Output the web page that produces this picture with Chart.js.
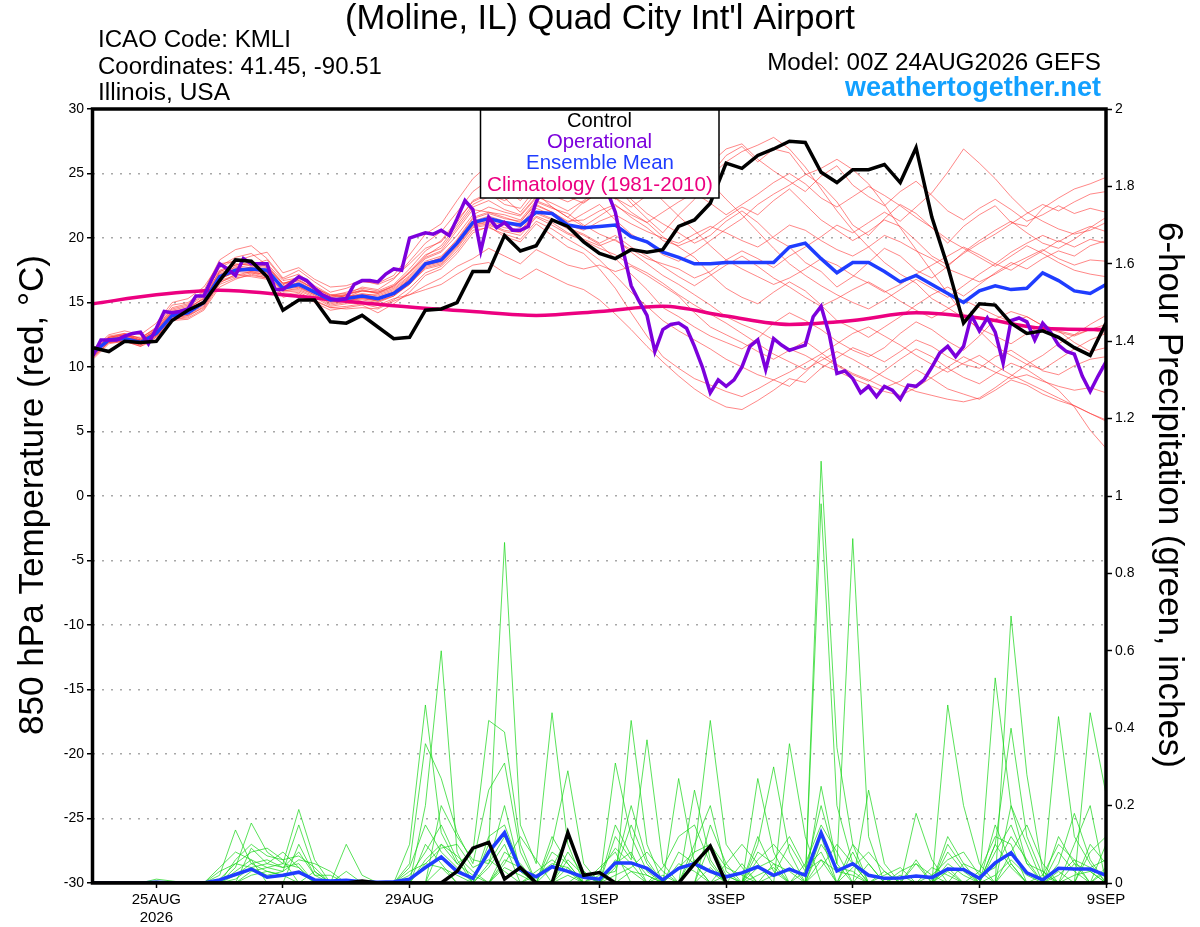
<!DOCTYPE html>
<html>
<head>
<meta charset="utf-8">
<title>KMLI GEFS 850 hPa temperature and precipitation</title>
<script src="https://cdn.jsdelivr.net/npm/chart.js@4.4.1/dist/chart.umd.min.js"></script>
<style>
  html, body { margin: 0; padding: 0; background: #ffffff; }
  #plume { display: block; }
</style>
</head>
<body>
<canvas id="plume" width="1200" height="927"></canvas>
<script>
// 00Z 24AUG2026 GEFS plume for KMLI
// members / control / mean are 6-hourly (0..384 h), operational is 3-hourly, climatology daily

const tickHours = [24, 72, 120, 192, 240, 288, 336, 384];
const tickLabels = [['25AUG', '2026'], '27AUG', '29AUG', '1SEP', '3SEP', '5SEP', '7SEP', '9SEP'];

// --- 850 hPa temperature (deg C) ---

const controlTemp = [
  11.5, 11.2, 12.0, 11.9, 12.0, 13.6, 14.4, 15.0, 16.7, 18.3,
  18.2, 17.0, 14.4, 15.2, 15.2, 13.5, 13.4, 14.0, 13.1, 12.2,
  12.3, 14.4, 14.5, 15.0, 17.4, 17.4, 20.2, 19.0, 19.4, 21.4,
  20.9, 19.7, 18.8, 18.4, 19.1, 18.9, 19.1, 20.9, 21.4, 22.7,
  25.8, 25.4, 26.4, 26.9, 27.5, 27.4, 25.1, 24.3, 25.3, 25.3,
  25.7, 24.3, 27.0, 21.6, 17.8, 13.4, 14.9, 14.8, 13.4, 12.6,
  12.8, 12.3, 11.5, 10.9, 13.4
];

const meanTemp = [
  11.1, 12.1, 12.2, 11.9, 12.6, 14.0, 14.2, 15.0, 17.0, 17.5,
  17.6, 17.5, 16.1, 16.4, 15.8, 15.2, 15.3, 15.5, 15.3, 15.7,
  16.6, 18.0, 18.3, 19.6, 21.2, 21.5, 21.2, 21.0, 22.0, 21.9,
  21.0, 20.8, 20.9, 21.0, 20.1, 19.7, 18.9, 18.5, 18.0, 18.0,
  18.1, 18.1, 18.1, 18.1, 19.3, 19.6, 18.4, 17.3, 18.1, 18.1,
  17.4, 16.6, 17.1, 16.4, 15.7, 15.0, 15.9, 16.3, 16.0, 16.1,
  17.3, 16.7, 15.9, 15.7, 16.4
];

const operationalTemp = [
  10.9, 12.1, 12.1, 12.1, 12.4, 12.6, 12.7, 11.8,
  13.0, 14.3, 14.2, 14.3, 14.5, 15.5, 15.5, 16.8,
  18.0, 17.6, 17.1, 18.4, 18.0, 18.0, 18.0, 16.0,
  16.0, 16.5, 17.0, 16.7, 16.1, 15.6, 15.3, 15.2,
  15.3, 16.4, 16.7, 16.7, 16.6, 17.2, 17.6, 17.5,
  20.0, 20.2, 20.4, 20.3, 20.6, 20.2, 21.5, 22.9,
  22.2, 19.0, 21.6, 20.8, 21.2, 20.6, 20.6, 20.9,
  22.8, 24.0, 24.5, 25.0, 25.5, 25.8, 25.5, 25.0,
  24.5, 23.6, 22.0, 19.0, 16.3, 15.1, 14.0, 11.2,
  12.9, 13.3, 13.4, 13.0, 11.6, 10.0, 8.0, 9.0,
  8.5, 9.0, 10.0, 11.6, 12.1, 9.8, 12.2, 11.7,
  11.3, 11.5, 11.7, 13.9, 14.7, 12.6, 9.5, 9.7,
  9.1, 8.0, 8.5, 7.7, 8.5, 8.2, 7.5, 8.6,
  8.5, 9.0, 10.0, 11.1, 11.6, 10.8, 11.6, 14.0,
  12.8, 13.8, 12.7, 10.3, 13.6, 13.8, 13.5, 12.1,
  13.4, 12.7, 11.7, 11.2, 11.0, 9.3, 8.1, 9.3,
  10.4
];

const climoTemp = [14.9, 15.6, 15.95, 15.6, 15.1, 14.65, 14.3, 14.0, 14.3, 14.7, 13.95, 13.3, 13.6, 14.2, 13.8, 13.0, 12.9];

const memberTemps = [
  [11.0,12.3,12.5,12.0,12.8,14.3,14.5,15.4,17.8,18.5, 18.8,17.9,16.5,16.8,16.0,15.1,15.6,16.2,16.0,16.8,
   18.2,19.6,20.5,22.0,23.6,24.5,23.1,22.0,23.5,22.4, 21.6,22.8,23.5,24.1,22.7,21.5,20.4,21.8,23.0,24.9,
   26.4,27.1,25.9,26.9,26.6,25.0,24.1,22.8,21.0,20.2, 21.5,22.6,21.9,20.8,19.6,20.9,21.8,22.5,21.2,20.9,
   22.3,23.1,23.8,24.2,24.7],
  [10.6,11.8,12.0,11.6,12.1,13.6,13.7,14.4,16.2,16.8, 17.2,16.9,15.4,15.7,15.0,14.4,14.6,14.8,14.2,14.9,
   15.8,17.1,17.6,18.8,20.4,20.9,20.1,19.7,21.1,20.2, 19.3,18.8,17.6,16.1,14.2,12.4,10.8,9.9,9.1,8.6,
   8.1,7.7,8.3,9.0,8.5,9.6,10.8,10.1,9.4,8.9, 9.7,10.6,11.4,10.8,9.9,9.2,8.7,9.5,10.3,9.8,
   9.0,8.2,6.9,5.1,3.7],
  [11.3,12.0,12.4,12.3,13.0,14.6,14.9,15.8,17.5,18.0, 17.9,18.3,16.8,17.2,16.3,15.6,15.4,15.9,15.8,16.2,
   17.3,18.5,19.0,20.6,22.2,22.0,21.6,21.2,22.8,22.3, 21.9,21.0,20.3,19.8,19.1,18.4,18.0,17.6,16.9,17.4,
   18.3,19.0,18.4,17.7,18.6,19.3,20.1,21.0,20.4,21.2, 22.0,21.3,22.4,23.5,25.1,26.9,25.8,24.6,23.2,22.0,
   21.3,20.7,20.3,20.6,21.2],
  [10.9,12.0,12.1,11.7,12.4,13.8,14.0,14.6,16.6,17.0, 17.3,17.0,15.8,15.9,15.4,14.7,14.9,15.0,14.8,15.3,
   15.6,16.0,16.4,17.2,17.9,18.1,17.3,16.8,17.6,17.0, 16.4,16.0,15.2,14.1,12.9,11.6,10.4,9.3,8.3,7.5,
   6.9,6.7,7.4,8.2,9.1,8.8,9.9,10.7,11.5,11.0, 10.4,11.2,12.1,11.6,10.8,10.2,9.9,10.8,11.3,10.5,
   9.7,9.4,10.1,10.6,10.8],
  [11.2,12.4,12.6,12.2,13.1,14.8,15.0,15.9,18.3,19.1, 19.4,18.4,16.9,17.5,16.6,15.8,16.1,16.6,16.5,17.1,
   18.7,20.3,21.1,22.9,24.6,25.7,26.0,24.8,25.3,24.1, 23.2,22.7,23.6,24.4,23.0,21.9,21.1,20.4,19.6,20.2,
   21.3,22.1,21.2,20.0,19.3,18.1,17.4,16.2,17.0,18.1, 19.2,18.6,17.5,16.9,17.8,18.9,19.8,20.6,21.3,20.4,
   19.6,19.2,19.9,20.8,21.6],
  [11.0,12.1,12.3,11.8,12.5,13.9,14.1,14.9,16.9,17.3, 17.8,17.6,16.0,16.2,15.6,14.9,15.1,15.4,15.1,15.6,
   16.4,17.8,18.1,19.4,21.0,21.3,21.0,20.5,21.9,21.4, 20.7,20.2,19.5,18.4,17.2,16.0,14.6,13.9,13.1,12.4,
   11.9,11.4,12.2,13.4,14.2,13.6,12.9,12.0,11.3,10.8, 11.5,12.6,13.5,12.9,12.0,11.3,12.4,13.7,14.3,13.9,
   13.2,12.7,12.4,12.9,13.3],
  [11.1,12.2,12.4,12.0,12.7,14.1,14.4,15.1,17.1,17.8, 17.5,17.3,16.3,16.5,15.9,15.4,15.5,15.6,15.6,16.0,
   17.0,18.2,18.6,19.8,21.5,21.9,21.5,21.3,22.6,22.0, 21.3,21.4,22.1,22.6,21.6,20.8,19.8,19.4,19.9,20.7,
   21.6,22.4,21.8,22.9,23.8,22.6,21.4,20.6,19.8,20.5, 21.4,20.9,19.8,18.6,17.9,18.8,19.6,20.3,21.1,21.9,
   22.6,22.1,22.8,23.4,23.6],
  [11.4,12.5,12.8,12.5,13.4,15.0,15.3,16.2,18.0,18.2, 18.6,18.9,17.3,17.7,16.8,16.2,16.3,16.7,16.4,16.9,
   18.0,19.2,19.7,21.2,22.9,23.5,22.6,22.3,23.9,23.3, 22.8,23.4,24.0,23.1,22.4,23.3,24.6,25.1,24.0,24.8,
   25.9,26.7,27.2,27.8,26.9,25.5,23.8,22.1,20.6,19.3, 18.1,17.2,16.5,15.3,14.6,13.8,13.0,12.4,11.8,12.6,
   13.3,12.8,11.9,11.2,11.5],
  [10.7,11.9,12.0,11.7,12.3,13.7,13.9,14.7,16.5,17.2, 17.0,16.8,15.6,15.5,15.1,14.6,14.5,14.6,14.5,15.1,
   15.6,16.3,16.9,17.8,18.4,19.2,18.6,18.0,19.1,18.5, 17.9,17.6,17.9,17.4,17.8,17.1,16.3,15.5,14.2,13.1,
   12.5,11.9,11.2,10.6,11.3,12.0,11.1,10.2,9.5,9.0, 8.4,8.9,9.8,9.1,8.3,7.9,7.5,8.2,9.0,8.6,
   7.9,7.4,7.0,6.4,5.9],
  [11.2,12.3,12.5,12.1,12.9,14.4,14.7,15.5,17.4,17.9, 18.1,18.0,16.7,16.9,16.2,15.5,15.8,16.1,15.9,16.4,
   17.6,19.0,19.8,21.4,22.8,23.4,22.9,23.6,24.8,25.6, 26.2,25.4,24.3,23.1,22.0,21.2,20.1,19.3,18.5,17.2,
   16.1,15.4,14.9,15.8,16.6,15.9,14.8,13.6,13.0,12.3, 13.1,13.9,14.8,15.6,16.2,15.5,16.4,17.3,18.1,17.6,
   18.4,19.0,18.6,19.4,19.8],
  [11.0,12.1,12.2,11.9,12.6,14.0,14.2,15.0,16.8,17.4, 17.6,17.4,16.2,16.2,15.7,15.2,15.3,15.4,15.3,15.8,
   16.8,17.9,18.2,19.5,21.1,21.4,21.2,20.8,22.3,21.8, 21.0,20.6,21.3,21.8,21.1,20.5,20.0,19.6,20.3,20.9,
   20.4,19.8,19.3,20.1,21.0,20.6,19.8,19.1,18.6,19.3, 20.2,19.7,19.0,18.4,17.6,17.1,16.6,17.2,17.9,18.5,
   19.1,18.4,17.9,18.3,18.2],
  [11.1,12.2,12.3,12.0,12.7,14.2,14.3,15.2,17.2,17.6, 17.7,17.5,16.1,16.6,15.9,15.3,15.4,15.7,15.5,15.9,
   16.9,18.1,18.4,19.7,21.3,21.7,21.3,21.0,22.5,22.0, 21.2,21.9,22.6,21.4,20.3,19.6,18.7,18.2,18.9,19.8,
   20.7,21.5,22.6,23.4,24.1,24.9,25.4,26.1,25.3,24.2, 22.6,20.8,19.1,17.4,15.7,14.1,12.8,11.6,10.9,10.2,
   9.8,10.6,11.4,12.1,12.6],
  [10.8,11.9,12.1,11.8,12.4,13.8,14.0,14.8,16.7,17.1, 17.4,17.1,15.9,16.0,15.5,14.8,15.0,15.2,15.0,15.5,
   16.5,17.6,17.9,19.2,20.8,21.0,20.5,20.2,21.6,21.0, 20.3,19.8,19.2,18.7,17.9,17.3,16.5,15.6,14.8,14.1,
   13.4,12.6,11.8,11.0,10.4,9.8,10.5,11.2,10.6,9.9, 9.2,8.6,8.1,7.8,7.5,7.3,7.6,8.4,9.3,10.2,
   10.9,11.8,12.5,13.3,14.0],
  [11.3,12.3,12.6,12.2,13.0,14.5,14.8,15.6,17.7,18.3, 18.2,17.8,16.4,17.0,16.1,15.5,15.6,16.0,15.7,16.3,
   17.4,18.7,19.2,20.8,22.4,22.9,22.2,21.8,23.2,22.7, 22.1,22.9,23.8,24.6,25.3,24.1,22.9,21.7,20.6,19.4,
   18.3,17.6,17.0,16.4,16.9,17.6,18.4,17.9,17.1,16.5, 15.8,16.4,17.2,17.9,18.6,19.3,18.7,18.0,18.9,19.6,
   20.2,19.7,20.4,20.9,20.5],
  [11.0,12.0,12.2,11.9,12.5,13.9,14.2,14.9,16.9,17.5, 17.4,17.3,16.1,16.3,15.8,15.1,15.2,15.3,15.2,15.7,
   16.6,17.9,18.2,19.5,21.0,21.2,20.8,20.6,22.0,21.5, 20.8,20.3,19.6,20.2,19.3,18.6,17.8,17.0,16.3,17.1,
   17.9,18.6,17.8,16.9,16.2,15.4,14.7,15.3,16.0,16.6, 15.9,15.1,14.4,13.8,14.5,15.2,14.6,14.0,13.5,13.9,
   13.2,12.8,12.5,12.9,12.6],
  [10.9,12.1,12.2,11.8,12.6,14.0,14.2,14.9,16.8,17.4, 17.3,17.2,15.9,16.1,15.6,15.0,15.1,15.3,15.1,15.5,
   16.4,17.7,18.0,19.3,20.9,21.1,20.6,20.4,21.7,21.2, 20.4,19.9,19.4,19.9,18.9,18.0,17.1,16.4,15.6,14.8,
   13.9,13.3,12.8,12.1,11.4,10.9,10.2,9.7,9.1,8.6, 8.1,7.8,8.4,9.2,10.0,10.8,10.2,9.6,9.1,9.4,
   8.9,8.5,8.2,8.4,8.0],
  [11.2,12.2,12.5,12.1,12.9,14.3,14.6,15.3,17.4,17.9, 18.0,17.8,16.5,16.7,16.1,15.6,15.7,15.9,15.8,16.3,
   17.3,18.6,19.4,21.0,22.6,23.2,23.8,22.9,24.3,25.1, 24.2,23.5,24.6,25.4,24.8,25.9,26.8,25.7,24.6,25.8,
   26.9,27.3,26.1,25.2,24.4,23.6,24.8,25.6,24.1,23.2, 22.5,23.6,24.4,23.3,22.1,21.4,22.3,23.0,22.2,21.3,
   21.8,22.5,21.9,22.3,22.0],
  [11.0,12.2,12.3,12.1,12.8,14.2,14.5,15.3,17.3,17.7, 17.9,17.7,16.4,16.7,16.0,15.4,15.6,15.9,15.7,16.1,
   17.1,18.4,18.9,20.2,21.8,22.4,22.0,21.7,23.1,23.6, 24.4,25.2,24.1,23.0,24.2,25.0,26.1,26.6,25.5,24.3,
   23.0,21.8,20.5,19.2,18.0,17.1,16.3,15.6,15.0,14.5, 15.2,16.0,16.8,16.1,15.4,16.3,17.2,18.0,17.5,18.3,
   19.0,19.8,19.3,19.9,19.6],
  [11.1,12.1,12.3,11.9,12.7,14.1,14.3,15.1,17.0,17.6, 17.7,17.4,16.0,16.4,15.8,15.2,15.4,15.6,15.4,15.8,
   16.8,18.0,18.5,19.9,21.6,22.0,21.8,21.4,22.9,22.4, 21.6,20.9,21.7,22.5,21.8,21.2,22.0,22.8,23.5,22.7,
   21.8,22.6,23.4,24.3,25.0,24.2,23.1,22.4,23.2,24.0, 23.3,22.5,21.6,20.8,19.9,19.2,18.5,17.8,18.6,19.4,
   18.8,18.1,17.5,17.2,17.0],
  [10.8,11.9,12.0,11.6,12.3,13.7,13.8,14.5,16.4,16.9, 17.1,16.9,15.6,15.8,15.2,14.6,14.7,14.9,14.6,15.2,
   16.1,17.3,17.8,19.0,20.6,20.8,20.3,19.9,21.3,20.7, 19.9,19.2,18.3,17.1,15.8,14.7,13.6,12.8,12.1,11.4,
   10.6,10.0,9.4,9.0,9.6,10.3,11.0,11.8,12.6,13.1, 12.4,11.7,10.9,10.2,9.6,10.3,10.9,10.1,9.4,8.8,
   8.2,7.6,7.0,6.4,5.8]
];

// --- 6-hour precipitation (inches) ---

const controlPrecip = [
  0, 0, 0, 0, 0, 0, 0, 0, 0, 0,
  0, 0, 0, 0, 0, 0, 0, 0.005, 0, 0,
  0, 0, 0, 0.03, 0.09, 0.105, 0.01, 0.04, 0, 0,
  0.13, 0.02, 0.027, 0, 0, 0, 0, 0, 0.05, 0.095,
  0, 0, 0, 0, 0, 0, 0, 0, 0, 0,
  0, 0, 0, 0, 0, 0, 0, 0, 0, 0,
  0, 0, 0, 0, 0
];

const meanPrecip = [
  0, 0, 0, 0, 0.002, 0, 0, 0, 0.008, 0.022,
  0.036, 0.015, 0.02, 0.028, 0.008, 0.005, 0.007, 0.003, 0.002, 0.003,
  0.01, 0.04, 0.067, 0.03, 0.012, 0.08, 0.13, 0.034, 0.016, 0.042,
  0.03, 0.015, 0.01, 0.052, 0.052, 0.038, 0.008, 0.038, 0.05, 0.03,
  0.016, 0.026, 0.042, 0.02, 0.036, 0.02, 0.13, 0.031, 0.05, 0.02,
  0.012, 0.013, 0.018, 0.014, 0.036, 0.035, 0.012, 0.052, 0.078, 0.026,
  0.008, 0.038, 0.036, 0.036, 0.02
];

const memberPrecips = [
  [0,0,0,0,0,0,0,0, .02,.137,.05,.03,.02,0,0,0, 0,0,0,0,.10,.46,.13,.05, .02,0,.08,.05,0,0,.04,0,
   0,.31,.12,.03,0,0,.08,.42, .1,.04,0,0,0,0,.98,.2, .05,0,0,0,0,0,.1,.04, 0,.53,.2,.05,0,.12,.05,.03, 0],
  [0,0,0,0,0,0,0,0, 0,.04,.155,.08,.05,.19,.06,0, 0,0,0,0,0,.20,.60,.08, 0,.05,.12,.03,0,.10,.29,.05,
   0,0,.42,.1,0,.27,.05,0, 0,0,.1,.30,.08,0,1.09,.35, .1,0,0,0,.05,.02,0,0, 0,0,.69,.28,.03,0,0,.44, .23],
  [0,0,0,0,0,0,0,0, .04,.08,.06,0,0,.1,.02,0, 0,0,0,0,.05,.36,.27,.13, .05,.24,.31,.08,0,0,0,.03,
   0,.12,.06,.37,.05,0,0,.15, .05,0,.27,.08,0,.03,.2,.05, .89,.12,0,0,0,0,.46,.2, .05,0,.05,0,0,.43,.12,.05, 0],
  [0,0,0,0,0,0,0,0, 0,0,.09,.05,.04,.05,0,0, .10,.02,0,0,0,.05,.04,0, 0,.1,.88,.15,.05,.44,.1,0,
   .04,.08,0,0,.02,0,.24,.06, 0,.05,0,0,.36,.12,0,0, 0,.24,.05,0,.18,.06,0,0, 0,.1,.4,.12,.02,0,.1,.2, 0],
  [0,0,0,0,0,0,0,0, 0,.06,.1,.07,.06,.07,.04,0, 0,0,0,0,0,0,.1,.05, .08,.42,.39,.1,0,0,.06,.02,
   0,.05,.08,0,0,.08,.05,0, .02,0,.06,.1,.05,0,.12,0, .08,0,.03,0,0,0,.05,.02, 0,.15,.05,0,0,.05,.18,.06, 0],
  [0,0,0,0,.01,.005,0,0, 0,.03,.06,.04,.03,.15,.03,0, 0,0,0,0,0,.1,.05,0, 0,.12,.15,.04,0,.12,.05,0,
   .02,.03,.15,.05,0,0,0,.1, .02,0,.12,.03,0,0,.25,.05, 0,.05,0,.02,0,0,.08,.03, 0,0,.2,.1,0,.03,0,.1, .05],
  [0,0,0,0,0,0,0,0, .01,.05,.08,.09,.06,0,.03,0, .03,0,0,0,.04,.15,.08,.04, 0,0,.05,.12,.06,0,.08,.02,
   0,.06,.03,0,.04,.12,.15,.05, 0,0,.08,.05,0,0,.1,.04, .03,0,0,0,.06,0,.12,.05, 0,.08,.15,.05,.03,0,.05,0, .03],
  [0,0,0,0,0,0,0,0, 0,0,.03,.04,.05,.04,0,0, 0,0,0,0,0,0,.2,.12, .06,.05,.2,.03,0,.04,.12,.03,
   0,.15,.07,.02,0,0,.1,.2, .03,0,0,.02,.1,.03,.06,0, .1,.05,0,0,0,.04,.02,0, .03,.12,.1,0,0,.08,.03,0, .1],
  [0,0,0,0,0,0,0,0, 0,.02,.05,.06,.04,.08,.02,.02, 0,0,0,0,.02,.08,.15,.06, 0,.04,.1,0,.03,.06,.03,0,
   0,.04,.2,.06,0,.05,.03,0, .05,.1,.05,0,0,.05,.15,.08, 0,0,.02,.04,0,0,0,.05, .03,0,.08,.15,.05,0,0,.08, .12],
  [0,0,0,0,.005,0,0,0, 0,0,.02,.03,.02,.03,0,0, 0,0,0,0,0,0,.04,.02, 0,0,.04,.02,0,0,.02,0,
   0,0,.03,.02,0,0,0,.04, 0,0,.02,.04,0,0,.06,.03, .02,0,0,0,0,0,.03,0, 0,.02,.06,.02,0,0,.02,.03, 0],
  [0,0,0,0,0,0,0,0, .03,.05,.04,.05,.08,.04,0,0, 0,0,0,0,0,.06,.1,.07, .03,0,.06,.04,0,.08,.05,0,
   0,.02,.04,.08,.03,0,.06,.03, 0,0,.04,.06,.12,.04,.08,0, .04,.08,.03,0,0,.02,.06,.08, .02,.04,.12,.06,0,.02,.06,.04, .06],
  [0,0,0,0,0,0,0,0, 0,.01,.04,.02,.03,.06,.05,.03, 0,0,0,0,.03,.05,.09,.1, .04,.06,.03,0,.02,.05,.04,0,
   .03,.09,.05,0,0,.04,.08,.1, .04,.02,0,.05,.03,0,.04,.1, .05,0,0,.03,.05,0,.04,0, 0,.1,.04,0,.02,.1,.06,0, .04]
];

// --- build datasets ---

const FONT = '"Liberation Sans", Arial, Helvetica, sans-serif';
const PURPLE = '#7c00dc';
const BLUE = '#1f3dff';
const PINK = '#ec0080';

function byStep(values, hoursPerStep) {
    return values.map((v, i) => ({ x: i * hoursPerStep, y: v }));
}

function lineSet(data, color, width, axis, order) {
    return {
        data: data,
        yAxisID: axis,
        borderColor: color,
        borderWidth: width,
        pointRadius: 0,
        fill: false,
        tension: 0,
        order: order
    };
}

const datasets = [];

memberTemps.forEach((m) => {
    datasets.push(lineSet(byStep(m, 6), 'rgba(255,45,45,0.72)', 0.8, 'y', 9));
});
memberPrecips.forEach((m) => {
    datasets.push(lineSet(byStep(m, 6), 'rgba(25,215,25,0.9)', 0.8, 'y1', 8));
});

const climoSet = lineSet(byStep(climoTemp, 24), PINK, 3.5, 'y', 4);
climoSet.cubicInterpolationMode = 'monotone';
datasets.push(climoSet);

datasets.push(lineSet(byStep(meanTemp, 6), BLUE, 3.5, 'y', 3));
datasets.push(lineSet(byStep(operationalTemp, 3), PURPLE, 3.5, 'y', 2));
datasets.push(lineSet(byStep(controlTemp, 6), '#000000', 3.5, 'y', 1));
datasets.push(lineSet(byStep(meanPrecip, 6), BLUE, 3.5, 'y1', 3));
datasets.push(lineSet(byStep(controlPrecip, 6), '#000000', 3.5, 'y1', 1));

// --- text, legend box and frame ---

function fitFont(ctx, text, width, weight) {
    ctx.font = weight + ' 100px ' + FONT;
    const w = ctx.measureText(text).width;
    return weight + ' ' + (100 * width / w).toFixed(2) + 'px ' + FONT;
}

function putText(ctx, text, x, y, width, align, color, weight) {
    ctx.font = fitFont(ctx, text, width, weight || 'normal');
    ctx.fillStyle = color;
    ctx.textAlign = align;
    ctx.textBaseline = 'middle';
    ctx.fillText(text, x, y);
}

const decorations = {
    id: 'decorations',
    afterDatasetsDraw(chart) {
        const ctx = chart.ctx;
        const top = chart.chartArea.top;
        ctx.save();
        // legend box sits on top of the plume lines
        ctx.fillStyle = '#ffffff';
        ctx.fillRect(480.5, top, 238.5, 198 - top);
        ctx.strokeStyle = '#000000';
        ctx.lineWidth = 1.5;
        ctx.strokeRect(480.5, top, 238.5, 198 - top);
        putText(ctx, 'Control', 599.5, 121, 65, 'center', '#000000');
        putText(ctx, 'Operational', 599.5, 142, 105, 'center', PURPLE);
        putText(ctx, 'Ensemble Mean', 600, 163.5, 148, 'center', BLUE);
        putText(ctx, 'Climatology (1981-2010)', 600, 185.5, 226, 'center', PINK);
        ctx.restore();
    },
    afterDraw(chart) {
        const ctx = chart.ctx;
        const a = chart.chartArea;
        ctx.save();
        ctx.strokeStyle = '#000000';
        ctx.lineWidth = 3.5;
        ctx.strokeRect(a.left - 0.5, a.top, a.right - a.left + 0.5, a.bottom - a.top);

        putText(ctx, "(Moline, IL) Quad City Int'l Airport", 600, 19, 510, 'center', '#000000');
        putText(ctx, 'ICAO Code: KMLI', 98, 40.5, 193, 'left', '#000000');
        putText(ctx, 'Coordinates: 41.45, -90.51', 98, 67, 284, 'left', '#000000');
        putText(ctx, 'Illinois, USA', 98, 93.5, 132, 'left', '#000000');
        putText(ctx, 'Model: 00Z 24AUG2026 GEFS', 1101, 63.5, 334, 'right', '#000000');
        putText(ctx, 'weathertogether.net', 1101, 89, 256, 'right', '#12a0ff', 'bold');

        ctx.translate(33, 495);
        ctx.rotate(-Math.PI / 2);
        putText(ctx, '850 hPa Temperature (red, \u00B0C)', 0, 0, 480, 'center', '#000000');
        ctx.setTransform(1, 0, 0, 1, 0, 0);
        ctx.translate(1169, 495);
        ctx.rotate(Math.PI / 2);
        putText(ctx, '6-hour Precipitation (green, inches)', 0, 0, 546, 'center', '#000000');
        ctx.restore();
    }
};

Chart.defaults.font.family = FONT;
Chart.defaults.color = '#000000';

new Chart(document.getElementById('plume').getContext('2d'), {
    type: 'line',
    data: { datasets: datasets },
    options: {
        responsive: false,
        animation: false,
        devicePixelRatio: 1,
        events: [],
        layout: { padding: { top: 109, left: 0, right: 0, bottom: 0 } },
        scales: {
            x: {
                type: 'linear',
                min: 0,
                max: 384,
                afterFit: (scale) => { scale.height = 44; },
                afterBuildTicks: (scale) => { scale.ticks = tickHours.map((h) => ({ value: h })); },
                border: { display: false },
                grid: { drawOnChartArea: false, tickLength: 5, tickColor: '#000000', tickWidth: 1.5 },
                ticks: {
                    autoSkip: false,
                    maxRotation: 0,
                    padding: 3,
                    font: { size: 15 },
                    color: '#000000',
                    callback: (value, index) => tickLabels[index]
                }
            },
            y: {
                position: 'left',
                min: -30,
                max: 30,
                afterFit: (scale) => { scale.width = 93; },
                border: { display: false, dash: [2, 7] },
                grid: {
                    color: '#a8a8a8',
                    lineWidth: 1.5,
                    borderDash: [2, 7],
                    tickBorderDash: [],
                    tickLength: 6,
                    tickColor: '#000000',
                    tickWidth: 1.5
                },
                ticks: { stepSize: 5, padding: 3, font: { size: 14 }, color: '#000000' }
            },
            y1: {
                position: 'right',
                min: 0,
                max: 2,
                afterFit: (scale) => { scale.width = 94; },
                border: { display: false },
                grid: { drawOnChartArea: false, tickLength: 6, tickColor: '#000000', tickWidth: 1.5 },
                ticks: {
                    stepSize: 0.2,
                    padding: 3,
                    font: { size: 14 },
                    color: '#000000',
                    callback: (v) => String(Number(v.toFixed(1)))
                }
            }
        },
        plugins: {
            legend: { display: false },
            tooltip: { enabled: false }
        }
    },
    plugins: [decorations]
});
</script>
</body>
</html>
